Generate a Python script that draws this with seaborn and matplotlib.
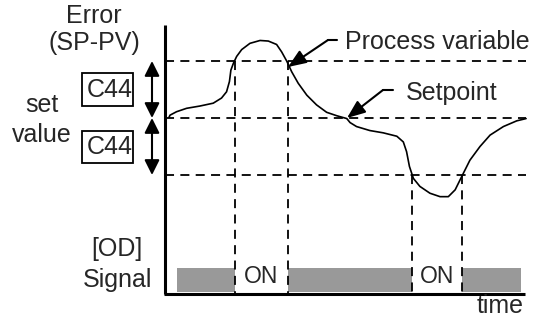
import matplotlib.pyplot as plt
import seaborn as sns
from matplotlib.patches import Rectangle

# process variable as error (setpoint = 0, band = +/- C44), time 0..100
time_pts = [1.1, 1.4, 3.2, 6.0, 9.7, 13.4, 15.7, 17.1, 17.9, 18.3, 19.0, 19.9, 21.3, 23.6,
            26.4, 28.7, 31.0, 32.4, 33.8, 35.2, 37.0, 39.4, 42.1, 44.9, 47.7, 50.5, 51.4,
            53.2, 56.9, 60.6, 64.4, 66.2, 67.1, 67.9, 69.0, 70.8, 73.6, 76.4, 78.7, 80.6,
            82.4, 84.7, 87.5, 90.3, 94.0, 97.7, 100.3]
pv = [0.01, 0.05, 0.11, 0.17, 0.21, 0.26, 0.35, 0.46, 0.64, 0.84, 0.96, 1.08, 1.20, 1.31,
      1.36, 1.35, 1.29, 1.16, 1.00, 0.81, 0.61, 0.40, 0.23, 0.10, 0.04, -0.01, -0.08,
      -0.15, -0.22, -0.26, -0.32, -0.42, -0.59, -0.85, -1.06, -1.20, -1.32, -1.38, -1.38,
      -1.26, -1.03, -0.74, -0.50, -0.30, -0.15, -0.05, -0.01]

c44 = 1.0
setpoint = 0.0
t_end = 100.3

# [OD] signal: ON while error outside the band
on_start = [19.4, 68.6]
on_end = [34.2, 82.5]
on_level = [c44, -c44]
signal_start, signal_end = 3.3, 98.9
signal_lo, signal_hi = -3.05, -2.63
axis_bottom, axis_top = -3.09, 1.63


def at(px, py):
    """pixel position of the 534x322 picture -> data coords"""
    return (px - 165) / 3.6, (118 - py) / 57


sns.set_style("white")
plt.rcParams['font.family'] = ['Liberation Sans', 'DejaVu Sans']

fig = plt.figure(figsize=(5.34, 3.22), dpi=100)
ax = fig.add_axes([0, 0, 1, 1])
ax.set_xlim(at(0, 0)[0], at(534, 0)[0])
ax.set_ylim(at(0, 322)[1], at(0, 0)[1])
ax.axis('off')

dash = (0, (5, 3.5))
fs = 18

# band and setpoint lines
for lev in [c44, setpoint, -c44]:
    ax.plot([0, t_end], [lev, lev], color='black', lw=1.3, ls=dash, clip_on=False)

# switching instants
for t0, t1, lev in zip(on_start, on_end, on_level):
    for t in (t0, t1):
        ax.plot([t, t], [lev, axis_bottom], color='black', lw=1.3, ls=dash)

# signal bars (OFF parts grey)
edges = [signal_start] + [v for pair in zip(on_start, on_end) for v in pair] + [signal_end]
for a, b in zip(edges[0::2], edges[1::2]):
    ax.fill_between([a, b], signal_lo, signal_hi, color='#999999', lw=0)
for t0, t1 in zip(on_start, on_end):
    ax.text((t0 + t1) / 2, at(0, 283)[1], 'ON', ha='center', va='baseline', fontsize=16.5)

# process variable curve
sns.lineplot(x=time_pts, y=pv, sort=False, estimator=None, color='black', lw=1.2, ax=ax)

# axes
ax.plot([0, 0], [axis_top, axis_bottom], color='black', lw=2.2, solid_capstyle='butt')
ax.plot([-0.3, 100], [axis_bottom, axis_bottom], color='black', lw=2.2, solid_capstyle='butt')

# C44 double arrows
xa = at(152, 0)[0]
for y0, y1 in [(c44, setpoint), (setpoint, -c44)]:
    ax.annotate('', xy=(xa, y1), xytext=(xa, y0),
                arrowprops=dict(arrowstyle='<|-|>,head_length=0.5,head_width=0.25',
                                mutation_scale=18, lw=1.5, color='black',
                                shrinkA=0, shrinkB=0))

# C44 boxes
for top, bot, base in [(73, 106, 97), (131, 163, 154)]:
    x0, y0 = at(82, bot)
    x1, y1 = at(133, top)
    ax.add_patch(Rectangle((x0, y0), x1 - x0, y1 - y0, fill=False, lw=1.3, ec='black'))
    ax.text(*at(110, base), 'C44', ha='center', va='baseline', fontsize=fs)

# pointers
for (hx0, hx1, hy, tx, ty, tip_x, tip_y, label) in [
        (337, 328, 40, 345, 49, 288, 67, 'Process variable'),
        (393, 383, 90, 406, 100, 347, 118, 'Setpoint')]:
    a0, a1 = at(hx0, hy), at(hx1, hy)
    ax.plot([a0[0], a1[0]], [a0[1], a1[1]], color='black', lw=1.5)
    ax.annotate('', xy=at(tip_x, tip_y), xytext=a1,
                arrowprops=dict(arrowstyle='-|>,head_length=0.55,head_width=0.22',
                                mutation_scale=20, lw=1.5, color='black',
                                shrinkA=0, shrinkB=0))
    ax.text(*at(tx, ty), label, ha='left', va='baseline', fontsize=fs)

# left labels
ax.text(*at(94, 23), 'Error', ha='center', va='baseline', fontsize=fs)
ax.text(*at(94, 50), '(SP-PV)', ha='center', va='baseline', fontsize=fs)
ax.text(*at(42, 112), 'set', ha='center', va='baseline', fontsize=fs)
ax.text(*at(42, 142), 'value', ha='center', va='baseline', fontsize=fs)
ax.text(*at(117, 256), '[OD]', ha='center', va='baseline', fontsize=fs)
ax.text(*at(117, 287), 'Signal', ha='center', va='baseline', fontsize=fs)
ax.text(*at(524, 313), 'time', ha='right', va='baseline', fontsize=fs)

fig.savefig('out.png', dpi=100)
